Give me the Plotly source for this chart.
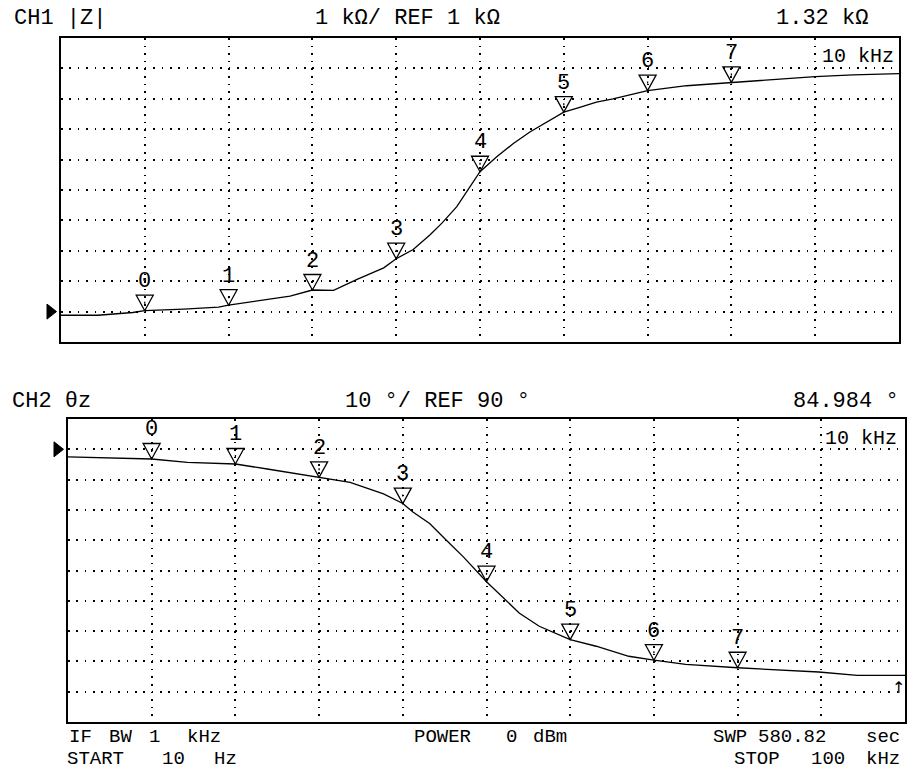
import numpy as np
import plotly.graph_objects as go

W, H = 908, 771

# Channel 1: impedance magnitude |Z| in kOhm versus frequency (log sweep 10 Hz .. 100 kHz)
Z_FREQ_HZ = [10, 15, 22, 25.1, 38.5, 56.5, 63.1, 89.6, 124, 158.5,
             200, 259, 347, 398.1, 480, 578, 658, 775, 896, 1000,
             1202, 1443, 1730, 2078, 2512, 2994, 3596, 4315, 5370, 6310,
             9680, 15849, 28950, 39811, 60400, 100000]
Z_KOHM = [0.88, 0.88, 0.97, 1.03, 1.08, 1.15, 1.21, 1.37, 1.51, 1.71,
          1.70, 2.06, 2.44, 2.74, 3.04, 3.53, 3.91, 4.45, 5.11, 5.60,
          6.09, 6.53, 6.91, 7.23, 7.56, 7.72, 7.89, 8.00, 8.16, 8.27,
          8.43, 8.54, 8.68, 8.73, 8.79, 8.83]

# Channel 2: impedance phase theta_z in degrees
PH_FREQ_HZ = [10, 16, 24, 25.1, 37.2, 63.1, 89.6, 158.5, 223, 322,
              398.1, 445, 535, 643, 775, 1000, 1191, 1432, 1786, 2512,
              3342, 4786, 6310, 8954, 15849, 26915, 38730, 59150, 100000]
PH_DEG = [87.5, 87.1, 86.8, 86.8, 85.7, 85.15, 83.5, 80.75, 79.1, 75.3,
          72.1, 69.3, 65.5, 60.0, 54.5, 46.3, 41.4, 36.0, 31.6, 27.2,
          25.0, 21.7, 20.4, 19.0, 17.9, 17.05, 16.5, 15.4, 15.4]

# Markers 0..7
MARKER_FREQ_HZ = [25.1, 63.1, 158.5, 398.1, 1000, 2512, 6310, 15849]
MARKER_LABELS = ["0", "1", "2", "3", "4", "5", "6", "7"]

# Scale settings
START_HZ, STOP_HZ = 10, 100000
CH1_REF, CH1_DIV = 1.0, 1.0     # kOhm
CH2_REF, CH2_DIV = 90.0, 10.0   # degrees
N_DIV = 10

FONT = "Liberation Mono"
INK = "black"

fig = go.Figure()
fig.add_trace(go.Scatter(x=Z_FREQ_HZ, y=Z_KOHM, mode="lines", xaxis="x", yaxis="y",
                         line=dict(color=INK, width=1.3), hoverinfo="skip", showlegend=False))
fig.add_trace(go.Scatter(x=PH_FREQ_HZ, y=PH_DEG, mode="lines", xaxis="x2", yaxis="y2",
                         line=dict(color=INK, width=1.3), hoverinfo="skip", showlegend=False))

lo, hi = np.log10(START_HZ), np.log10(STOP_HZ)
grid_freqs = [10 ** (lo + (hi - lo) * k / N_DIV) for k in range(1, N_DIV)]

DOT = 1.6
common = dict(showline=True, mirror=True, linecolor=INK, linewidth=2, ticks="",
              showticklabels=False, zeroline=False, gridcolor=INK, gridwidth=DOT,
              fixedrange=True)

# panel frames (inner pixel edges)
P1 = dict(l=61, r=899, t=38, b=342)
P2 = dict(l=68, r=905, t=419, b=722)


def xdom(p):
    return [p["l"] / W, p["r"] / W]


def ydom(p):
    return [1 - p["b"] / H, 1 - p["t"] / H]


def dash(step):
    return f"{DOT}px,{step - DOT:.2f}px"


ch1_lo = CH1_REF - CH1_DIV * 1
ch2_hi = CH2_REF + CH2_DIV * 1
ch1_range = [ch1_lo, ch1_lo + CH1_DIV * N_DIV]
ch2_range = [ch2_hi - CH2_DIV * N_DIV, ch2_hi]

fig.update_layout(
    width=W, height=H, margin=dict(l=0, r=0, t=0, b=0),
    paper_bgcolor="white", plot_bgcolor="white",
    xaxis=dict(type="log", range=[lo, hi], domain=xdom(P1), anchor="y",
               tickvals=grid_freqs, griddash=dash((P1["b"] - P1["t"]) / N_DIV / 4), **common),
    yaxis=dict(range=ch1_range, domain=ydom(P1), anchor="x",
               tickvals=[ch1_range[0] + CH1_DIV * k for k in range(1, N_DIV)],
               griddash=dash((P1["r"] - P1["l"]) / N_DIV / 10), **common),
    xaxis2=dict(type="log", range=[lo, hi], domain=xdom(P2), anchor="y2",
                tickvals=grid_freqs, griddash=dash((P2["b"] - P2["t"]) / N_DIV / 4), **common),
    yaxis2=dict(range=ch2_range, domain=ydom(P2), anchor="x2",
                tickvals=[ch2_range[0] + CH2_DIV * k for k in range(1, N_DIV)],
                griddash=dash((P2["r"] - P2["l"]) / N_DIV / 10), **common),
)

shapes = []
annotations = []

# marker triangles with their numbers
for xr, yr, freqs, vals in (("x", "y", Z_FREQ_HZ, Z_KOHM), ("x2", "y2", PH_FREQ_HZ, PH_DEG)):
    for f, lab in zip(MARKER_FREQ_HZ, MARKER_LABELS):
        v = vals[freqs.index(f)]
        shapes.append(dict(type="path", xref=xr, yref=yr, xsizemode="pixel", ysizemode="pixel",
                           xanchor=f, yanchor=v,
                           path="M-8.5,15.5 L8.5,15.5 L0,0 Z M0,7 L0,9",
                           line=dict(color=INK, width=1.3), fillcolor="rgba(0,0,0,0)"))
        annotations.append(dict(x=np.log10(f), y=v, xref=xr, yref=yr, text=lab, showarrow=False,
                                yshift=29, xanchor="center", yanchor="middle",
                                font=dict(family=FONT, size=22, color=INK)))

# reference-level pointers on the left of each grid
for yr, ref in (("y", CH1_REF), ("y2", CH2_REF)):
    shapes.append(dict(type="path", xref=yr.replace("y", "x") + " domain", yref=yr,
                       xsizemode="pixel", ysizemode="pixel", xanchor=0, yanchor=ref,
                       path="M-14,7.5 L-4.5,0 L-14,-7.5 Z",
                       line=dict(color=INK, width=1), fillcolor=INK))

# header text of both channels: (text, x px, y px, anchor, size)
TEXTS = [
    ("CH1 |Z|", 12, 18, "left", 22),
    ("1 kΩ/ REF 1 kΩ", 313, 18, "left", 22),
    ("1.32 kΩ", 870, 18, "right", 22),
    ("CH2 θz", 10, 401, "left", 22),
    ("10 °/ REF 90 °", 343, 401, "left", 22),
    ("84.984 °", 901, 401, "right", 22),
    ("10 kHz", 896, 57, "right", 20),
    ("10 kHz", 899, 438, "right", 20),
]
# footer: stimulus settings, laid out field by field
FOOT_SIZE = 19
ROW1, ROW2 = 737, 758.5
FOOTER = [
    ("IF", 67, ROW1, "left"), ("BW", 107, ROW1, "left"), ("1", 147, ROW1, "left"),
    ("kHz", 185, ROW1, "left"),
    ("POWER", 412, ROW1, "left"), ("0", 504, ROW1, "left"), ("dBm", 531, ROW1, "left"),
    ("SWP", 711, ROW1, "left"), ("580.82", 756, ROW1, "left"), ("sec", 902, ROW1, "right"),
    ("START", 65, ROW2, "left"), ("10", 160, ROW2, "left"), ("Hz", 212, ROW2, "left"),
    ("STOP", 732, ROW2, "left"), ("100", 809, ROW2, "left"), ("kHz", 902, ROW2, "right"),
]
for txt, px, py, anc, sz in TEXTS + [t + (FOOT_SIZE,) for t in FOOTER]:
    annotations.append(dict(x=px / W, y=1 - py / H, xref="paper", yref="paper", text=txt,
                            showarrow=False, xanchor=anc, yanchor="middle",
                            font=dict(family=FONT, size=sz, color=INK)))

annotations.append(dict(x=898 / W, y=1 - 687 / H, xref="paper", yref="paper", text="↑",
                        showarrow=False, xanchor="center", yanchor="middle",
                        font=dict(family="DejaVu Sans", size=16, color=INK)))

fig.update_layout(shapes=shapes, annotations=annotations)
fig.write_html("out.html")
